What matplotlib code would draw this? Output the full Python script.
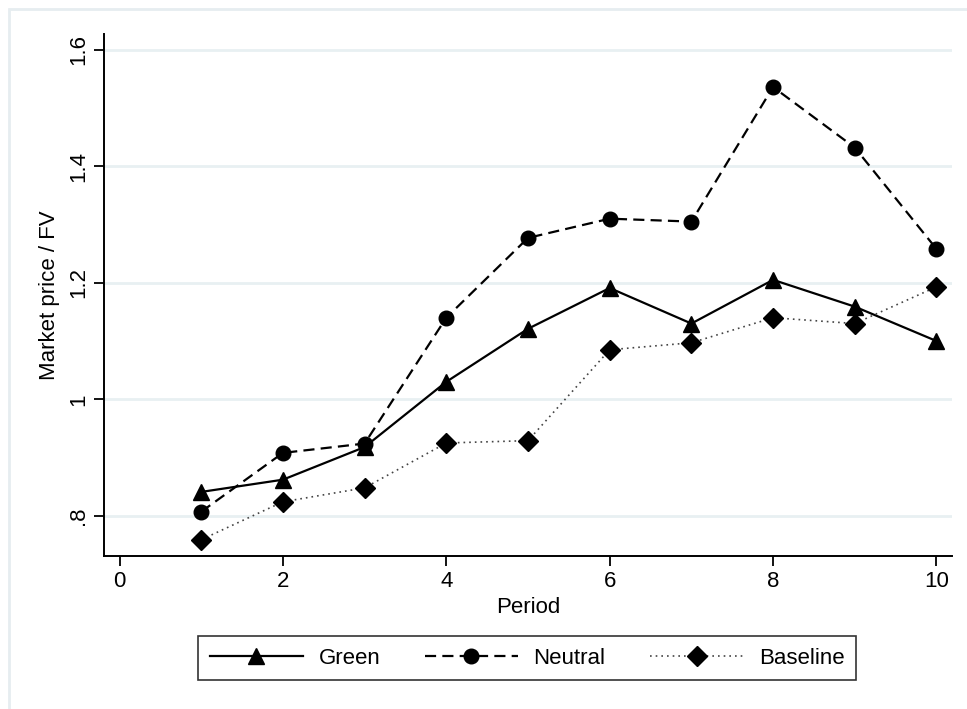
import matplotlib
matplotlib.use("Agg")
import matplotlib.pyplot as plt
from matplotlib.patches import Rectangle

periods = [1, 2, 3, 4, 5, 6, 7, 8, 9, 10]
green = [0.841, 0.862, 0.918, 1.030, 1.121, 1.191, 1.130, 1.205, 1.159, 1.100]
neutral = [0.807, 0.908, 0.924, 1.140, 1.277, 1.310, 1.305, 1.536, 1.432, 1.258]
baseline = [0.759, 0.824, 0.848, 0.925, 0.929, 1.085, 1.097, 1.140, 1.130, 1.193]

yticks = [0.8, 1.0, 1.2, 1.4, 1.6]
ytick_labels = [".8", "1", "1.2", "1.4", "1.6"]
xticks = [0, 2, 4, 6, 8, 10]

plt.rcParams['font.family'] = ['Liberation Sans', 'DejaVu Sans']

fig = plt.figure(figsize=(9.67, 7.09), dpi=100)
# light outer frame like Stata's graph region
fig.patches.append(Rectangle((9 / 967, -0.1), 1.2, 1.0 - 9 / 709 + 0.1,
                             transform=fig.transFigure, fill=False,
                             edgecolor="#e6edf0", linewidth=2))

ax = fig.add_axes([104 / 967, 1 - 556 / 709, (952 - 104) / 967, (556 - 34) / 709])

ax.plot(periods, green, color="black", linewidth=1.6, marker="^", markersize=11,
        label="Green")
ax.plot(periods, neutral, color="black", linewidth=1.6, marker="o", markersize=10.5,
        dashes=(5, 2.8), label="Neutral")
ax.plot(periods, baseline, color="#444444", linewidth=1.2, linestyle=(0, (1, 2.4)),
        marker="D", markersize=10.5, markerfacecolor="black", markeredgecolor="black",
        label="Baseline")

ax.set_xlim(-0.19, 10.19)
ax.set_ylim(0.731, 1.627)
ax.set_xticks(xticks)
ax.set_yticks(yticks)
ax.set_yticklabels(ytick_labels, rotation=90, va="center")
ax.tick_params(axis="both", labelsize=16, length=7, width=1.3, color="black")
ax.grid(axis="y", color="#e8f0f2", linewidth=2)
ax.set_axisbelow(True)

for side in ["top", "right"]:
    ax.spines[side].set_visible(False)
for side in ["left", "bottom"]:
    ax.spines[side].set_linewidth(1.4)

ax.set_xlabel("Period", fontsize=16, labelpad=4)
ax.set_ylabel("Market price / FV", fontsize=16, labelpad=6)

leg = fig.legend(loc="center", bbox_to_anchor=(527 / 967, 1 - 658 / 709), ncol=3,
                 fontsize=16, handlelength=4.2, columnspacing=2.0, handletextpad=0.7,
                 fancybox=False, edgecolor="black", borderpad=0.5)
leg.get_frame().set_linewidth(1.2)

fig.savefig("out.png", dpi=100)
